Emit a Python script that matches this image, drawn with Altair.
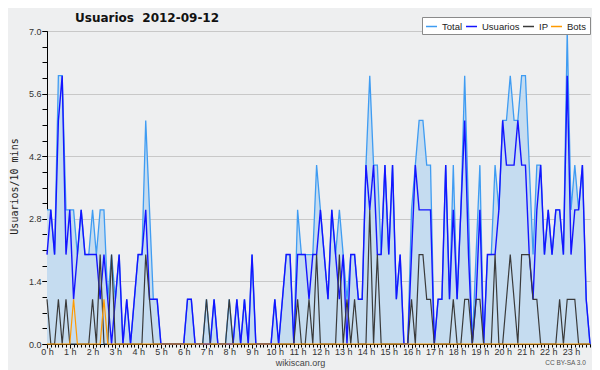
import altair as alt
import pandas as pd

# 10-minute steps over the day (0..143)
steps = list(range(144))

total = [3,3,2,6,6,3,3,3,2,3,
         2,2,3,2,3,3,1,2,1,2,
         0,1,0,1,2,2,5,3,1,1,
         0,0,0,0,0,0,0,1,1,0,
         0,0,1,0,1,0,0,0,1,0,
         1,0,1,0,2,0,0,0,0,0,
         1,0,1,2,2,0,3,2,2,2,
         2,4,3,2,1,3,2,3,2,1,
         2,2,1,1,4,6,4,4,2,4,
         2,4,1,2,0,0,3,4,5,5,
         4,4,0,1,1,4,1,4,1,3,
         6,3,0,2,4,0,2,2,4,3,
         5,5,6,5,5,6,6,4,2,4,
         4,2,3,2,3,3,2,7,3,4,
         3,4,1,0]

usuarios = [2,3,2,5,6,2,3,1,2,3,
            2,2,2,2,1,2,1,0,1,2,
            0,1,0,1,2,2,3,1,1,1,
            0,0,0,0,0,0,0,1,1,0,
            0,0,0,0,1,0,0,0,0,0,
            1,0,1,0,2,0,0,0,0,0,
            1,0,1,2,2,0,2,2,2,1,
            2,2,3,2,1,3,2,1,2,0,
            2,2,1,1,4,3,4,2,2,4,
            2,4,1,2,0,0,2,4,3,3,
            3,3,0,1,1,4,1,3,1,3,
            5,2,0,1,3,0,2,2,2,3,
            5,4,4,4,5,4,4,2,1,3,
            4,2,3,2,3,3,2,6,2,3,
            3,4,1,0]

ip = [1,0,0,1,0,1,0,0,0,0,
      0,0,1,0,2,0,0,2,0,0,
      0,0,0,0,0,0,2,1,0,0,
      0,0,0,0,0,0,0,0,0,0,
      0,0,1,0,0,0,0,0,1,0,
      0,0,0,0,0,0,0,0,0,0,
      0,0,0,0,0,0,1,0,0,1,
      0,2,0,0,0,0,0,2,0,1,
      0,1,0,0,0,3,0,2,0,0,
      0,0,0,0,0,0,1,0,2,2,
      1,1,0,0,0,0,0,1,0,0,
      1,1,0,1,1,0,0,0,2,0,
      0,1,2,1,0,2,2,2,1,1,
      0,0,0,0,0,1,0,1,1,1,
      0,0,0,0]

bots = [0,0,0,0,0,0,0,1,0,0,
        0,0,0,0,0,1,0,0,0,0,
        0,0,0,0,0,0,0,0,0,0,
        0,0,0,0,0,0,0,0,0,0,
        0,0,0,0,0,0,0,0,0,0,
        0,0,0,0,0,0,0,0,0,0,
        0,0,0,0,0,0,0,0,0,0,
        0,0,0,0,0,0,0,0,0,0,
        0,0,0,0,0,0,0,0,0,0,
        0,0,0,0,0,0,0,0,0,0,
        0,0,0,0,0,0,0,0,0,0,
        0,0,0,0,0,0,0,0,0,0,
        0,0,0,0,0,0,0,0,0,0,
        0,0,0,0,0,0,0,0,0,0,
        0,0,0,0]

series_names = ["Total", "Usuarios", "IP", "Bots"]
series_colors = ["#3f9cf2", "#1414ff", "#3a3a3a", "#ff9a00"]
y_major = [0.0, 1.4, 2.8, 4.2, 5.6, 7.0]
y_minor = [round(k * 0.35, 2) for k in range(21)]
hour_ticks = list(range(0, 144, 6))

rows = []
for name, vals in zip(series_names, [total, usuarios, ip, bots]):
    for i, v in zip(steps, vals):
        rows.append({"i": i, "v": v, "serie": name})
df = pd.DataFrame(rows)

xscale = alt.Scale(domain=[0, 143], nice=False, zero=False)
yscale = alt.Scale(domain=[0, 7], nice=False)
cscale = alt.Scale(domain=series_names, range=series_colors)

SANS = "Liberation Sans, Arial, sans-serif"

base = alt.Chart(df)

x_main = alt.X("i:Q", scale=xscale, axis=alt.Axis(
    values=hour_ticks, labelExpr="datum.value / 6 + ' h'", tickSize=4,
    labelPadding=-1, grid=False, domainColor="#000", tickColor="#000",
    labelFont=SANS, labelFontSize=9, labelColor="#333",
    title="wikiscan.org", titleFont=SANS, titleFontSize=9,
    titleFontWeight="normal", titleColor="#444", titleX=253, titleY=21,
    titleBaseline="alphabetic", titleAnchor="middle", titleAlign="center",
    labelFlush=False, labelOverlap=False, orient="bottom"))
y_main = alt.Y("v:Q", scale=yscale, axis=alt.Axis(
    values=y_major, format=".1f", tickSize=5, labelPadding=1,
    grid=True, gridColor="#c8c8c8", domainColor="#000", tickColor="#000",
    labelFont=SANS, labelFontSize=9, labelColor="#333",
    title="Usuarios/10 mins", titleFont="DejaVu Sans Mono", titleFontSize=10,
    titleFontWeight="normal", titleColor="#222", titleX=-38, titleY=155,
    titleAngle=270, titleAlign="center", titleBaseline="top",
    orient="left"))

x_minor = alt.X("i:Q", scale=xscale, axis=alt.Axis(
    values=steps, labels=False, tickSize=3, grid=False, domain=False,
    tickColor="#000", title="CC BY-SA 3.0", titleFont=SANS,
    titleFontSize=6.5, titleFontWeight="normal", titleColor="#555",
    titleX=518, titleY=20, titleBaseline="alphabetic", titleAlign="center",
    orient="bottom"))
y_minor_ax = alt.Y("v:Q", scale=yscale, axis=alt.Axis(
    values=y_minor, labels=False, tickSize=5, grid=False, domain=False,
    tickColor="#000", title=None, orient="left"))

area = base.transform_filter(alt.datum.serie == "Total").mark_area(
    color="#c5dcf0", opacity=1).encode(x=x_main, y=y_main)

legend = alt.Legend(
    orient="none", legendX=375, legendY=-14, direction="horizontal",
    title=None, symbolType="stroke", symbolSize=121, symbolStrokeWidth=1.5,
    labelFont=SANS, labelFontSize=9.5, labelColor="#222",
    labelOffset=4, columnPadding=0, padding=3, fillColor="#ffffff",
    strokeColor="#8a8a8a")

def line_layer(name, width, first=False):
    enc_x = x_minor if first else alt.X("i:Q", scale=xscale, axis=None)
    enc_y = y_minor_ax if first else alt.Y("v:Q", scale=yscale, axis=None)
    return base.transform_filter(alt.datum.serie == name).mark_line(
        strokeWidth=width).encode(
        x=enc_x, y=enc_y,
        color=alt.Color("serie:N", scale=cscale, legend=legend))

chart = alt.layer(
    area,
    line_layer("Total", 1.3, first=True),
    line_layer("Usuarios", 1.4),
    line_layer("IP", 1.2),
    line_layer("Bots", 1.2),
).resolve_axis(x="independent", y="independent").properties(
    width=543, height=313,
    autosize=alt.AutoSizeParams(type="none"),
    padding={"left": 39, "top": 23, "right": 2, "bottom": 26},
    title=alt.TitleParams("Usuarios\u00a0\u00a02012-09-12", anchor="start",
                          frame="group", dx=28, offset=-8,
                          font="DejaVu Sans", fontSize=12, fontWeight="bold",
                          color="#111"),
    background="#eeeff0",
).configure_view(stroke=None)

chart.save("out.html", embed_options={"renderer": "svg", "actions": False})
